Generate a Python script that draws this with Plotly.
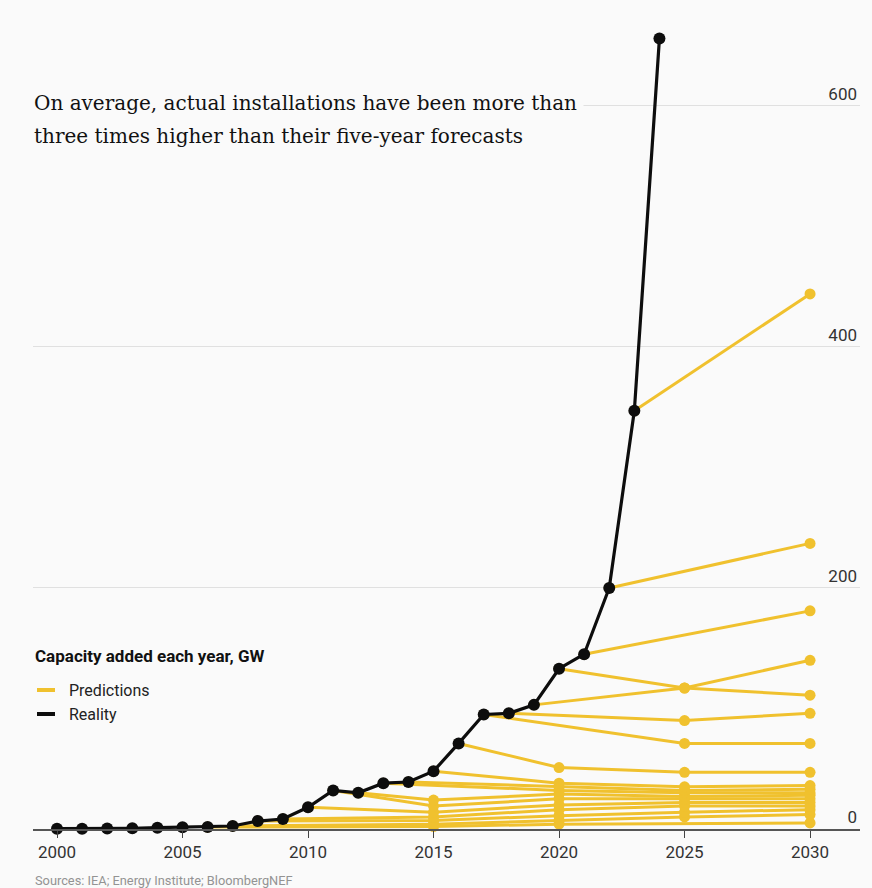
import plotly.graph_objects as go

# Actual solar capacity added each year, GW
years = list(range(2000, 2025))
actual_gw = [0.3, 0.3, 0.5, 0.6, 1.1, 1.4, 1.6, 2.5, 6.6, 8.3, 18, 32, 30, 38, 39,
             48, 71, 95, 96, 103, 133, 145, 200, 347, 656]

# Forecast vintages: the year each forecast was made, the years it targets,
# and the capacity it predicted for those years
forecast_made = [2006, 2007, 2008, 2009, 2010, 2011, 2012, 2013, 2014, 2015,
                 2016, 2017, 2018, 2019, 2020, 2021, 2022, 2023]
forecast_targets = [
    [2015, 2020, 2030],
    [2015, 2020, 2025, 2030],
    [2015, 2020, 2025, 2030],
    [2015, 2020, 2025, 2030],
    [2015, 2020, 2025, 2030],
    [2015, 2020, 2025, 2030],
    [2015, 2020, 2025, 2030],
    [2020, 2025, 2030],
    [2020, 2025, 2030],
    [2020, 2025, 2030],
    [2020, 2025, 2030],
    [2025, 2030],
    [2025, 2030],
    [2025, 2030],
    [2025, 2030],
    [2030],
    [2030],
    [2030],
]
forecast_gw = [
    [2, 4, 5],
    [4, 7, 10, 12],
    [7, 11, 14, 16],
    [10, 16, 19, 19],
    [14, 20, 22, 22],
    [19, 25, 25, 25],
    [24, 29, 27, 28],
    [32, 30, 30],
    [35, 32, 33],
    [38, 35, 36],
    [51, 47, 47],
    [71, 71],
    [90, 96],
    [117, 140],
    [117, 111],
    [181],
    [237],
    [444],
]

x_ticks = [2000, 2005, 2010, 2015, 2020, 2025, 2030]
y_ticks = [0, 200, 400, 600]

YELLOW = "#F0C12E"
BLACK = "#0d0d0d"
BG = "#fafafa"

# Page geometry (pixels) used to place the free-standing text
W, H = 872, 888
PLOT_L, PLOT_R, PLOT_T, PLOT_B = 33, 860, 30, 829


def px_x(px):
    return (px - PLOT_L) / (PLOT_R - PLOT_L)


def px_y(py):
    return (PLOT_B - py) / (PLOT_B - PLOT_T)


fig = go.Figure()

# Each forecast starts from the actual value in the year it was made
for made, targets, vals in zip(forecast_made, forecast_targets, forecast_gw):
    start = actual_gw[years.index(made)]
    fig.add_trace(go.Scatter(
        x=[made] + targets,
        y=[start] + vals,
        mode="lines+markers",
        line=dict(color=YELLOW, width=3),
        marker=dict(color=YELLOW, size=11),
        cliponaxis=False,
        showlegend=False,
        hoverinfo="x+y",
    ))

fig.add_trace(go.Scatter(
    x=years,
    y=actual_gw,
    mode="lines+markers",
    line=dict(color=BLACK, width=3.2),
    marker=dict(color=BLACK, size=12),
    cliponaxis=False,
    showlegend=False,
    hoverinfo="x+y",
))

# Legend drawn as swatches and labels
legend_items = [("Predictions", YELLOW, 690), ("Reality", BLACK, 714)]
for label, color, py in legend_items:
    fig.add_shape(type="line", xref="paper", yref="paper",
                  x0=px_x(37), x1=px_x(55), y0=px_y(py), y1=px_y(py),
                  line=dict(color=color, width=4))
    fig.add_annotation(xref="paper", yref="paper", x=px_x(67), y=px_y(py),
                       text=label, showarrow=False, xanchor="left", yanchor="middle",
                       font=dict(family="Roboto", size=16, color="#222"))

fig.add_annotation(xref="paper", yref="paper", x=px_x(33), y=px_y(656),
                   text="<b>Capacity added each year, GW</b>", showarrow=False,
                   xanchor="left", yanchor="middle",
                   font=dict(family="Roboto", size=17, color="#111"))

# Title, one annotation per line; the background hides the gridline behind it
title_lines = [
    ("On average, actual installations have been more than", 103),
    ("three times higher than their five-year forecasts", 136),
]
for text, py in title_lines:
    fig.add_annotation(xref="paper", yref="paper", x=px_x(27), y=px_y(py),
                       text=text, showarrow=False, xanchor="left", yanchor="middle",
                       bgcolor=BG, borderpad=6,
                       font=dict(family="DejaVu Serif", size=20, color="#111"))

# Source note
fig.add_annotation(xref="paper", yref="paper", x=px_x(33), y=px_y(880),
                   text="Sources: IEA; Energy Institute; BloombergNEF",
                   showarrow=False, xanchor="left", yanchor="middle",
                   font=dict(family="Roboto", size=12.8, color="#939393"))

fig.update_layout(
    width=W, height=H,
    margin=dict(l=PLOT_L, r=W - PLOT_R, t=PLOT_T, b=H - PLOT_B),
    paper_bgcolor=BG, plot_bgcolor=BG,
    xaxis=dict(
        range=[1999.044, 2031.99],
        tickvals=x_ticks,
        ticktext=[str(v) for v in x_ticks],
        ticks="outside", ticklen=7, tickcolor="#444", tickwidth=1,
        showgrid=False, zeroline=False,
        showline=True, linecolor="#555", linewidth=1.5,
        tickfont=dict(family="Roboto", size=17, color="#333"),
        fixedrange=True,
    ),
    yaxis=dict(
        range=[0, 663],
        side="right",
        tickvals=y_ticks,
        ticktext=["0", "200", "400", "600"],
        ticklabelposition="inside top",
        ticks="",
        showgrid=True, gridcolor="#e0e0e0", gridwidth=1,
        zeroline=False, showline=False,
        tickfont=dict(family="Roboto", size=17, color="#333"),
        fixedrange=True,
    ),
)

fig.write_html("out.html")
